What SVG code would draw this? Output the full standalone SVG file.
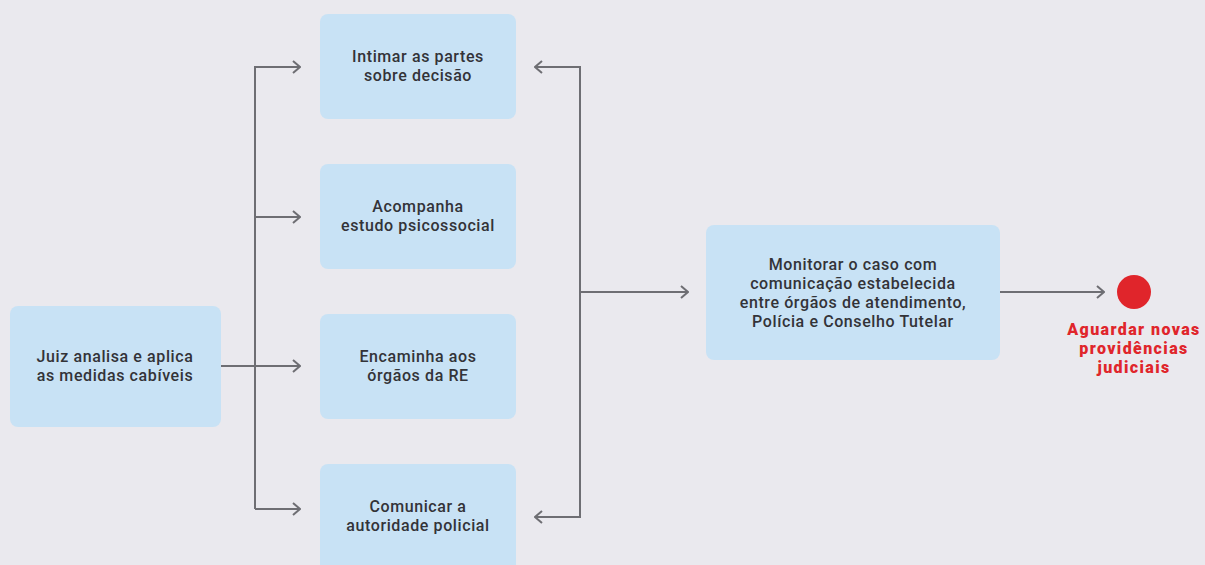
<svg xmlns="http://www.w3.org/2000/svg" width="1205" height="565" viewBox="0 0 1205 565">
<defs>
<style>
.node{fill:#C8E2F5;}
.t{font-family:Roboto,"Noto Sans",sans-serif;font-weight:500;font-size:16px;letter-spacing:0.6px;fill:#333338;text-anchor:middle;}
.r{font-family:Roboto,"Noto Sans",sans-serif;font-weight:900;font-size:16px;letter-spacing:1.4px;fill:#E0252B;text-anchor:middle;}
.c{fill:none;stroke:#6E6E73;stroke-width:2;}
</style>
<marker id="ah" viewBox="0 0 10 14" refX="9" refY="7" markerWidth="10" markerHeight="14" markerUnits="userSpaceOnUse" orient="auto">
<path d="M2,1 L9,7 L2,13" fill="none" stroke="#6E6E73" stroke-width="2"/>
</marker>
</defs>
<rect width="1205" height="565" fill="#EAE9EE"/>
<g id="connectors">
<path class="c" d="M221,366 H300" marker-end="url(#ah)"/>
<path class="c" d="M255,509 V67 H300" marker-end="url(#ah)"/>
<path class="c" d="M255,217 H300" marker-end="url(#ah)"/>
<path class="c" d="M255,509 H300" marker-end="url(#ah)"/>
<path class="c" d="M580,292 V67 H535" marker-end="url(#ah)"/>
<path class="c" d="M580,292 V517 H535" marker-end="url(#ah)"/>
<path class="c" d="M580,292 H688" marker-end="url(#ah)"/>
<path class="c" d="M1000,292 H1104" marker-end="url(#ah)"/>
</g>
<g id="n-juiz">
<rect class="node" x="10" y="306" width="211" height="121" rx="8"/>
<text class="t"><tspan x="115" y="362">Juiz analisa e aplica</tspan><tspan x="115" y="381">as medidas cabíveis</tspan></text>
</g>
<g id="n-intimar">
<rect class="node" x="320" y="14" width="196" height="105" rx="8"/>
<text class="t"><tspan x="418" y="62">Intimar as partes</tspan><tspan x="418" y="81">sobre decisão</tspan></text>
</g>
<g id="n-acompanha">
<rect class="node" x="320" y="164" width="196" height="105" rx="8"/>
<text class="t"><tspan x="418" y="212">Acompanha</tspan><tspan x="418" y="231">estudo psicossocial</tspan></text>
</g>
<g id="n-encaminha">
<rect class="node" x="320" y="314" width="196" height="105" rx="8"/>
<text class="t"><tspan x="418" y="362">Encaminha aos</tspan><tspan x="418" y="381">órgãos da RE</tspan></text>
</g>
<g id="n-comunicar">
<rect class="node" x="320" y="464" width="196" height="110" rx="8"/>
<text class="t"><tspan x="418" y="512">Comunicar a</tspan><tspan x="418" y="531">autoridade policial</tspan></text>
</g>
<g id="n-monitorar">
<rect class="node" x="706" y="225" width="294" height="135" rx="8"/>
<text class="t"><tspan x="853" y="270">Monitorar o caso com</tspan><tspan x="853" y="289">comunicação estabelecida</tspan><tspan x="853" y="308">entre órgãos de atendimento,</tspan><tspan x="853" y="327">Polícia e Conselho Tutelar</tspan></text>
</g>
<g id="n-fim">
<circle cx="1134" cy="292" r="17" fill="#E0252B"/>
<text class="r"><tspan x="1134" y="335">Aguardar novas</tspan><tspan x="1134" y="354">providências</tspan><tspan x="1134" y="373">judiciais</tspan></text>
</g>
</svg>
